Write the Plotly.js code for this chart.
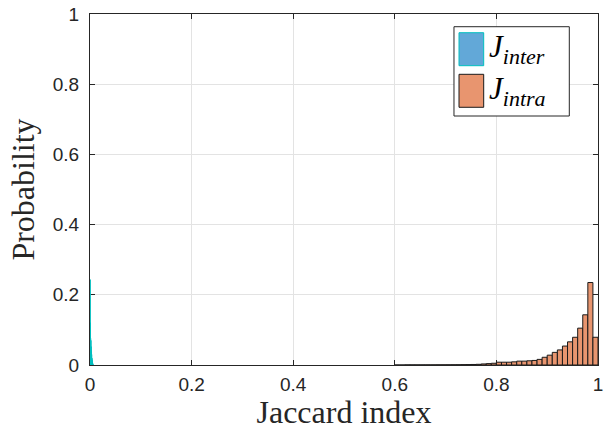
<!DOCTYPE html>
<html>
<head>
<meta charset="utf-8">
<script src="https://cdn.plot.ly/plotly-3.0.1.min.js"></script>
<style>
  html, body { margin: 0; padding: 0; background: #ffffff; }
  #chart { width: 610px; height: 430px; }
</style>
</head>
<body>
<div id="chart"></div>
<script>
// Inter-cluster Jaccard index: very narrow bins piled up next to 0
const interCenters = [0.00025, 0.00075, 0.00125, 0.00175, 0.00225, 0.00275,
                      0.00325, 0.00375, 0.00425, 0.00475, 0.00525, 0.00575];
const interProb = [0.243, 0.120, 0.076, 0.070, 0.052, 0.038,
                   0.030, 0.020, 0.015, 0.010, 0.005, 0.003];
const interWidth = 0.0005;

// Intra-cluster Jaccard index: bins of width 0.01 from 0.60 to 1.00
const intraCenters = [0.605, 0.615, 0.625, 0.635, 0.645, 0.655, 0.665, 0.675,
                      0.685, 0.695, 0.705, 0.715, 0.725, 0.735, 0.745, 0.755,
                      0.765, 0.775, 0.785, 0.795, 0.805, 0.815, 0.825, 0.835,
                      0.845, 0.855, 0.865, 0.875, 0.885, 0.895, 0.905, 0.915,
                      0.925, 0.935, 0.945, 0.955, 0.965, 0.975, 0.985, 0.995];
const intraProb = [0.0, 0.0, 0.0003, 0.0003, 0.0003, 0.0003, 0.0004, 0.0004,
                   0.0005, 0.0005, 0.0006, 0.0007, 0.0008, 0.001, 0.0012, 0.0015,
                   0.002, 0.003, 0.004, 0.005, 0.008, 0.008, 0.008, 0.009,
                   0.011, 0.011, 0.012, 0.013, 0.016, 0.022, 0.028, 0.036,
                   0.043, 0.054, 0.066, 0.079, 0.105, 0.143, 0.235, 0.079];
const intraWidth = 0.01;

const xTicks = [0, 0.2, 0.4, 0.6, 0.8, 1];
const xTickText = ['0', '0.2', '0.4', '0.6', '0.8', '1'];
const yTicks = [0, 0.2, 0.4, 0.6, 0.8, 1];
const yTickText = ['0', '0.2', '0.4', '0.6', '0.8', '1'];

const legendNames = [
  '<i>J</i><sub><span style="font-size:22px"><i>inter</i></span></sub>',
  '<i>J</i><sub><span style="font-size:22px"><i>intra</i></span></sub>'
];

const blueFill = '#62a8d8';
const cyanEdge = '#00bfbf';
const orangeFill = '#e8956f';
const axisColor = '#262626';
const gridColor = '#e3e3e3';
const serif = '"Liberation Serif", "Times New Roman", serif';
const sans = '"Liberation Sans", Arial, sans-serif';

const traces = [
  {
    type: 'bar',
    x: interCenters,
    y: interProb,
    width: interCenters.map(() => interWidth),
    marker: { color: blueFill, line: { color: cyanEdge, width: 1 } },
    showlegend: false,
    hoverinfo: 'x+y'
  },
  {
    type: 'bar',
    x: intraCenters,
    y: intraProb,
    width: intraCenters.map(() => intraWidth),
    marker: { color: orangeFill, line: { color: '#1a1a1a', width: 1 } },
    showlegend: false,
    hoverinfo: 'x+y'
  }
];

// Legend box drawn in paper coordinates
const legBox = { x0: 0.7165, x1: 0.9435, y0: 0.7094, y1: 0.9638 };
const patchX = [0.7264, 0.7750];
const patchY = [[0.8527, 0.9467], [0.7342, 0.8282]];
const patchFill = [blueFill, orangeFill];
const patchEdge = [cyanEdge, '#1a1a1a'];
const textY = [0.8997, 0.7812];

const shapes = [{
  type: 'rect', xref: 'paper', yref: 'paper',
  x0: legBox.x0, x1: legBox.x1, y0: legBox.y0, y1: legBox.y1,
  fillcolor: '#ffffff', line: { color: axisColor, width: 1 }, layer: 'above'
}];
const annotations = [];
legendNames.forEach((name, i) => {
  shapes.push({
    type: 'rect', xref: 'paper', yref: 'paper',
    x0: patchX[0], x1: patchX[1], y0: patchY[i][0], y1: patchY[i][1],
    fillcolor: patchFill[i], line: { color: patchEdge[i], width: 1 }, layer: 'above'
  });
  annotations.push({
    xref: 'paper', yref: 'paper', x: 0.7815, y: textY[i],
    xanchor: 'left', yanchor: 'middle', showarrow: false,
    text: name, font: { family: serif, size: 31, color: '#000000' }
  });
});

const axisCommon = {
  showline: true, linecolor: axisColor, linewidth: 1, mirror: 'ticks',
  ticks: 'inside', ticklen: 5, tickwidth: 1, tickcolor: axisColor,
  showgrid: true, gridcolor: gridColor, gridwidth: 1, zeroline: false,
  tickfont: { family: sans, size: 19, color: axisColor },
  layer: 'below traces', fixedrange: true
};

const layout = {
  width: 610, height: 430,
  margin: { l: 90, r: 12, t: 14, b: 65, pad: 0 },
  paper_bgcolor: '#ffffff', plot_bgcolor: '#ffffff',
  barmode: 'overlay', bargap: 0,
  xaxis: Object.assign({}, axisCommon, {
    range: [0, 1], tickmode: 'array', tickvals: xTicks, ticktext: xTickText,
    ticklabelstandoff: 2,
    title: { text: 'Jaccard index', font: { family: serif, size: 32, color: axisColor }, standoff: 2 }
  }),
  yaxis: Object.assign({}, axisCommon, {
    range: [0, 1], tickmode: 'array', tickvals: yTicks, ticktext: yTickText,
    ticklabelstandoff: 6,
    title: { text: 'Probability', font: { family: serif, size: 32, color: axisColor }, standoff: 8 }
  }),
  shapes: shapes,
  annotations: annotations,
  showlegend: false
};

Plotly.newPlot('chart', traces, layout, { displayModeBar: false, staticPlot: true });
</script>
</body>
</html>
